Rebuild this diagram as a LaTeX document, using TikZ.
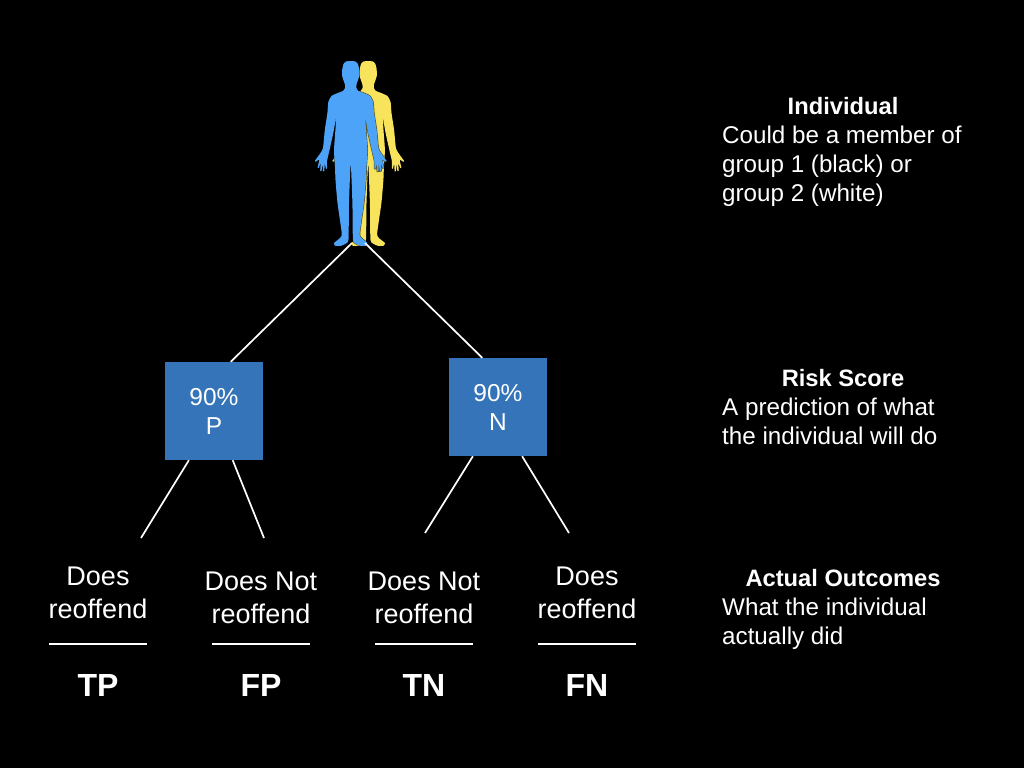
\documentclass[tikz,border=0pt]{standalone}
\usepackage{fontspec}
\usetikzlibrary{calc}
\setmainfont{Liberation Sans}
\definecolor{figblue}{HTML}{4DA3F8}
\definecolor{figyellow}{HTML}{F8E45C}
\definecolor{boxblue}{HTML}{3574B8}
\newcommand{\personpath}{
 plot[smooth cycle,tension=0.35] coordinates {
 (350.7,61)(346,61.5)(343.5,64)(342.3,69)(342,75)(343,79)(344.8,84)(345,88)(343,91)(337.7,93)(331.5,96)(328.3,102)(327.4,113)(324.8,130)(323,148)
 (320.5,153)(314.8,161)(315.6,161.8)(319.2,159.8)(317.6,167.6)(318.6,168.2)(320.6,163.2)(320.2,170.8)(321.4,171.2)(322.6,164.2)(323,171.4)(324.2,171.4)(324.8,164)(326,168.8)(327,168.6)(327,161)(328.4,155)
 (333.3,133)(336,118)(335.4,130)(334,150)(335,167)(335.5,180)(337.5,203)(341.7,233)(340,238)(334,243)(335.5,245.8)(341,245.8)(346,243.5)(348.5,239)
 (349,203)(350.7,163.5)(352.4,203)(352.9,239)(355.4,243.5)(360.4,245.8)(365.9,245.8)(367.4,243)(361.4,238)(359.7,233)(363.9,203)(365.9,180)(366.4,167)(367.4,150)(366,130)(365.4,118)
 (368.1,133)(373,155)(374.4,161)(374.4,168.6)(375.4,168.8)(376.6,164)(377.2,171.4)(378.4,171.4)(378.8,164.2)(380,171.2)(381.2,170.8)(380.8,163.2)(382.8,168.2)(383.8,167.6)(382.2,159.8)(385.8,161.8)(386.6,161)(380.9,153)(378.4,148)(376.6,130)(374,113)(373.1,102)(369.9,96)(363.7,93)(358.4,91)(356.4,88)(356.6,84)(358.4,79)(359.4,75)(359.1,69)(357.9,64)(355.4,61.5)
 }}
\tikzset{
 outline/.style={draw=white,line width=1.7pt},
 scorebox/.style={fill=boxblue,draw=none,minimum width=98pt,minimum height=98pt,inner sep=0pt,text=white,font=\fontsize{24.5}{29}\selectfont,align=center},
 outcome/.style={text=white,font=\fontsize{27}{33}\selectfont,align=center,inner sep=0pt},
 verdict/.style={text=white,font=\fontsize{32}{36}\selectfont\bfseries,inner sep=0pt},
 notehead/.style={text=white,font=\fontsize{23.7}{29}\selectfont\bfseries,inner sep=0pt},
 notebody/.style={text=white,font=\fontsize{24.2}{29}\selectfont,align=left,inner sep=0pt,anchor=north west},
}
\begin{document}
\begin{tikzpicture}[x=1pt,y=-1pt]
\fill[black] (0,0) rectangle (1024,768);
\useasboundingbox (0,0) rectangle (1024,768);
% figures
\begin{scope}[xshift=17.5pt]
\fill[figyellow] \personpath;
\end{scope}
\begin{scope}
\begin{scope}[xshift=17.5pt]
\clip \personpath;
\begin{scope}[xshift=-17.5pt]
\draw[black!65!figyellow,line width=1.2pt] \personpath;
\end{scope}
\end{scope}
\end{scope}
\fill[figblue] \personpath;
% named points
\coordinate (feetL) at (352,243);
\coordinate (feetR) at (365,243);
\node[scorebox] (boxP) at (214,411) {90\%\\P};
\node[scorebox] (boxN) at (498,407) {90\%\\N};
\coordinate (endA) at (141,538);
\coordinate (endB) at (264,538);
\coordinate (endC) at (425,533);
\coordinate (endD) at (569,533);
\draw[outline] (feetL) -- ($(boxP.north west)!0.67!(boxP.north east)$);
\draw[outline] (feetR) -- ($(boxN.north west)!0.34!(boxN.north east)$);
\draw[outline] ($(boxP.south west)!0.245!(boxP.south east)$) -- (endA);
\draw[outline] ($(boxP.south west)!0.69!(boxP.south east)$) -- (endB);
\draw[outline] ($(boxN.south west)!0.245!(boxN.south east)$) -- (endC);
\draw[outline] ($(boxN.south west)!0.745!(boxN.south east)$) -- (endD);
% outcomes
\node[outcome] (o1) at (98,592.5) {Does\\reoffend};
\node[outcome] (o2) at (261,597.5) {Does Not\\reoffend};
\node[outcome] (o3) at (424,597.5) {Does Not\\reoffend};
\node[outcome] (o4) at (587,592.5) {Does\\reoffend};
\coordinate (r1a) at (49,644); \coordinate (r1b) at (147,644);
\coordinate (r2a) at (212,644); \coordinate (r2b) at (310,644);
\coordinate (r3a) at (375,644); \coordinate (r3b) at (473,644);
\coordinate (r4a) at (538,644); \coordinate (r4b) at (636,644);
\draw[outline] (r1a) -- (r1b);
\draw[outline] (r2a) -- (r2b);
\draw[outline] (r3a) -- (r3b);
\draw[outline] (r4a) -- (r4b);
\node[verdict] (tp) at (98,685) {TP};
\node[verdict] (fp) at (261,685) {FP};
\node[verdict] (tn) at (424,685) {TN};
\node[verdict] (fn) at (587,685) {FN};
% notes
\node[notehead] (h1) at (843,106) {Individual};
\node[notebody] (b1) at (722,126) {Could be a member of\\group 1 (black) or\\group 2 (white)};
\node[notehead] (h2) at (843,378) {Risk Score};
\node[notebody] (b2) at (722,398) {A prediction of what\\the individual will do};
\node[notehead] (h3) at (843,578) {Actual Outcomes};
\node[notebody] (b3) at (722,598) {What the individual\\actually did};
\end{tikzpicture}
\end{document}
